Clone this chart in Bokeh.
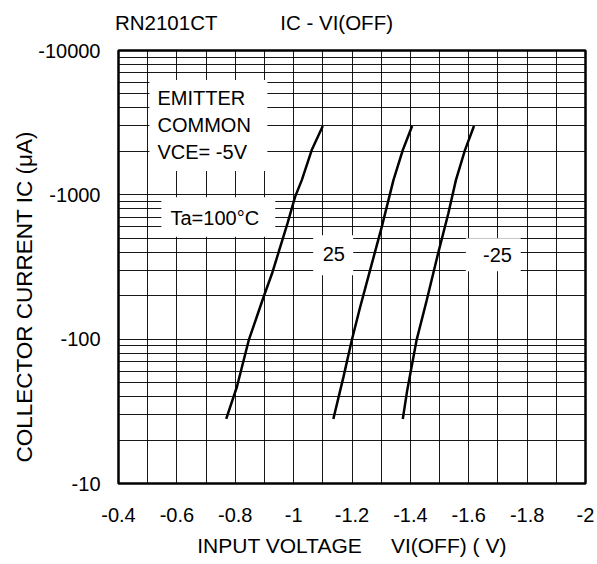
import math
from bokeh.plotting import figure
from bokeh.models import Range1d, FixedTicker, Label, BoxAnnotation, Title, LinearAxis
from bokeh.embed import file_html
from bokeh.resources import INLINE

# ---------------- data ----------------
# Input voltage VI(OFF) in V, collector current IC in uA (negative polarity, PNP)
ta100_vi = [-0.769, -0.806, -0.846, -0.897, -0.926, -0.979, -1.005, -1.028, -1.062, -1.100]
ta100_ic = [-28, -47, -98, -196, -285, -634, -968, -1265, -2042, -3000]

ta25_vi = [-1.136, -1.171, -1.199, -1.228, -1.262, -1.302, -1.342, -1.374, -1.406]
ta25_ic = [-28, -55, -98, -167, -301, -600, -1265, -2042, -3000]

tam25_vi = [-1.374, -1.389, -1.421, -1.456, -1.495, -1.530, -1.556, -1.587, -1.618]
tam25_ic = [-28, -44, -98, -186, -393, -743, -1265, -2042, -3000]

x_major = [-0.4, -0.6, -0.8, -1.0, -1.2, -1.4, -1.6, -1.8, -2.0]
x_minor = [-0.5, -0.7, -0.9, -1.1, -1.3, -1.5, -1.7, -1.9]
x_labels = ["-0.4", "-0.6", "-0.8", "-1", "-1.2", "-1.4", "-1.6", "-1.8", "-2"]

y_major = [10, 100, 1000, 10000]
y_labels = ["-10", "-100", "-1000", "-10000"]
y_minor = [m * d for d in (10, 100, 1000) for m in range(2, 10)]

# header texts and where (in volts along the top edge) they are centred
head_texts = ["RN2101CT", "IC - VI(OFF)"]
head_at = [-0.5635, -1.1473]

FONT = "Liberation Sans"
NB = "\u00a0"

p = figure(width=597, height=564,
           x_range=Range1d(-0.4, -2.0), y_range=Range1d(10, 10000),
           y_axis_type="log", output_backend="svg", toolbar_location=None,
           min_border_left=118, min_border_right=12,
           min_border_top=50, min_border_bottom=81)
p.background_fill_color = "white"
p.border_fill_color = "white"
p.outline_line_color = "black"
p.outline_line_width = 2.5

bx = p.below[0]
by = p.left[0]

xt = FixedTicker(ticks=x_major, minor_ticks=x_minor)
yt = FixedTicker(ticks=y_major, minor_ticks=y_minor)
bx.ticker = xt
p.xgrid.ticker = xt
by.ticker = yt
p.ygrid.ticker = yt

for g in (p.xgrid, p.ygrid):
    g.grid_line_color = "black"
    g.grid_line_width = 1
    g.grid_line_alpha = 0.9
    g.minor_grid_line_color = "black"
    g.minor_grid_line_width = 1
    g.minor_grid_line_alpha = 0.9

bx.major_label_overrides = dict(zip(x_major, x_labels))
by.major_label_overrides = dict(zip(y_major, y_labels))

# header line drawn as labels of an axis above the frame
top_axis = LinearAxis(ticker=FixedTicker(ticks=head_at, minor_ticks=[]),
                      major_label_overrides=dict(zip(head_at, head_texts)))
p.add_layout(top_axis, "above")

for ax in (bx, by, top_axis):
    ax.axis_line_color = None
    ax.major_tick_line_color = None
    ax.minor_tick_line_color = None
    ax.major_tick_out = 0
    ax.major_tick_in = 0
    ax.minor_tick_out = 0
    ax.minor_tick_in = 0
    ax.major_label_text_font = FONT
    ax.major_label_text_font_size = "20px"
    ax.major_label_text_color = "black"

top_axis.major_label_text_font_size = "20.5px"
top_axis.major_label_standoff = 17

bx.major_label_standoff = 24
by.major_label_standoff = 18
bx.axis_label = "INPUT VOLTAGE" + NB * 5 + "VI(OFF) ( V)"
bx.axis_label_text_font = FONT
bx.axis_label_text_font_size = "21px"
bx.axis_label_text_font_style = "normal"
bx.axis_label_text_color = "black"
bx.axis_label_standoff = 9

# vertical axis title
p.add_layout(Title(text="COLLECTOR CURRENT IC (\u03bcA)", align="left", offset=21,
                   standoff=-2, text_font=FONT, text_font_size="22.5px",
                   text_font_style="normal", text_color="black"), "left")

# curves
for vi, ic in ((ta100_vi, ta100_ic), (ta25_vi, ta25_ic), (tam25_vi, tam25_ic)):
    p.line(vi, [-c for c in ic], line_color="black", line_width=2.5)

# white boxes behind annotations
boxes = [
    (-0.506, -0.910, 6243, 1460),   # EMITTER COMMON block
    (-0.547, -0.937, 964, 513),     # Ta=100C
    (-1.067, -1.204, 525, 277),     # 25
    (-1.590, -1.778, 501, 296),     # -25
]
for l, r, t, b in boxes:
    p.add_layout(BoxAnnotation(left=l, right=r, top=t, bottom=b,
                               fill_color="white", fill_alpha=1.0,
                               line_color=None, line_alpha=0))


def lab(text, x, y, size="20px", align="left"):
    p.add_layout(Label(x=x, y=y, x_units="screen", y_units="screen", text=text,
                       text_font=FONT, text_font_size=size, text_color="black",
                       text_align=align, text_baseline="middle"))


lab("EMITTER", 39, 385.5)
lab("COMMON", 39, 358.5)
lab("VCE= -5V", 39, 331.5)
lab("Ta=100\u00b0C", 52, 266)
lab("25", 215.3, 229.5, align="center")
lab("-25", 379, 229, align="center")

open("out.html", "w").write(file_html(p, INLINE))
